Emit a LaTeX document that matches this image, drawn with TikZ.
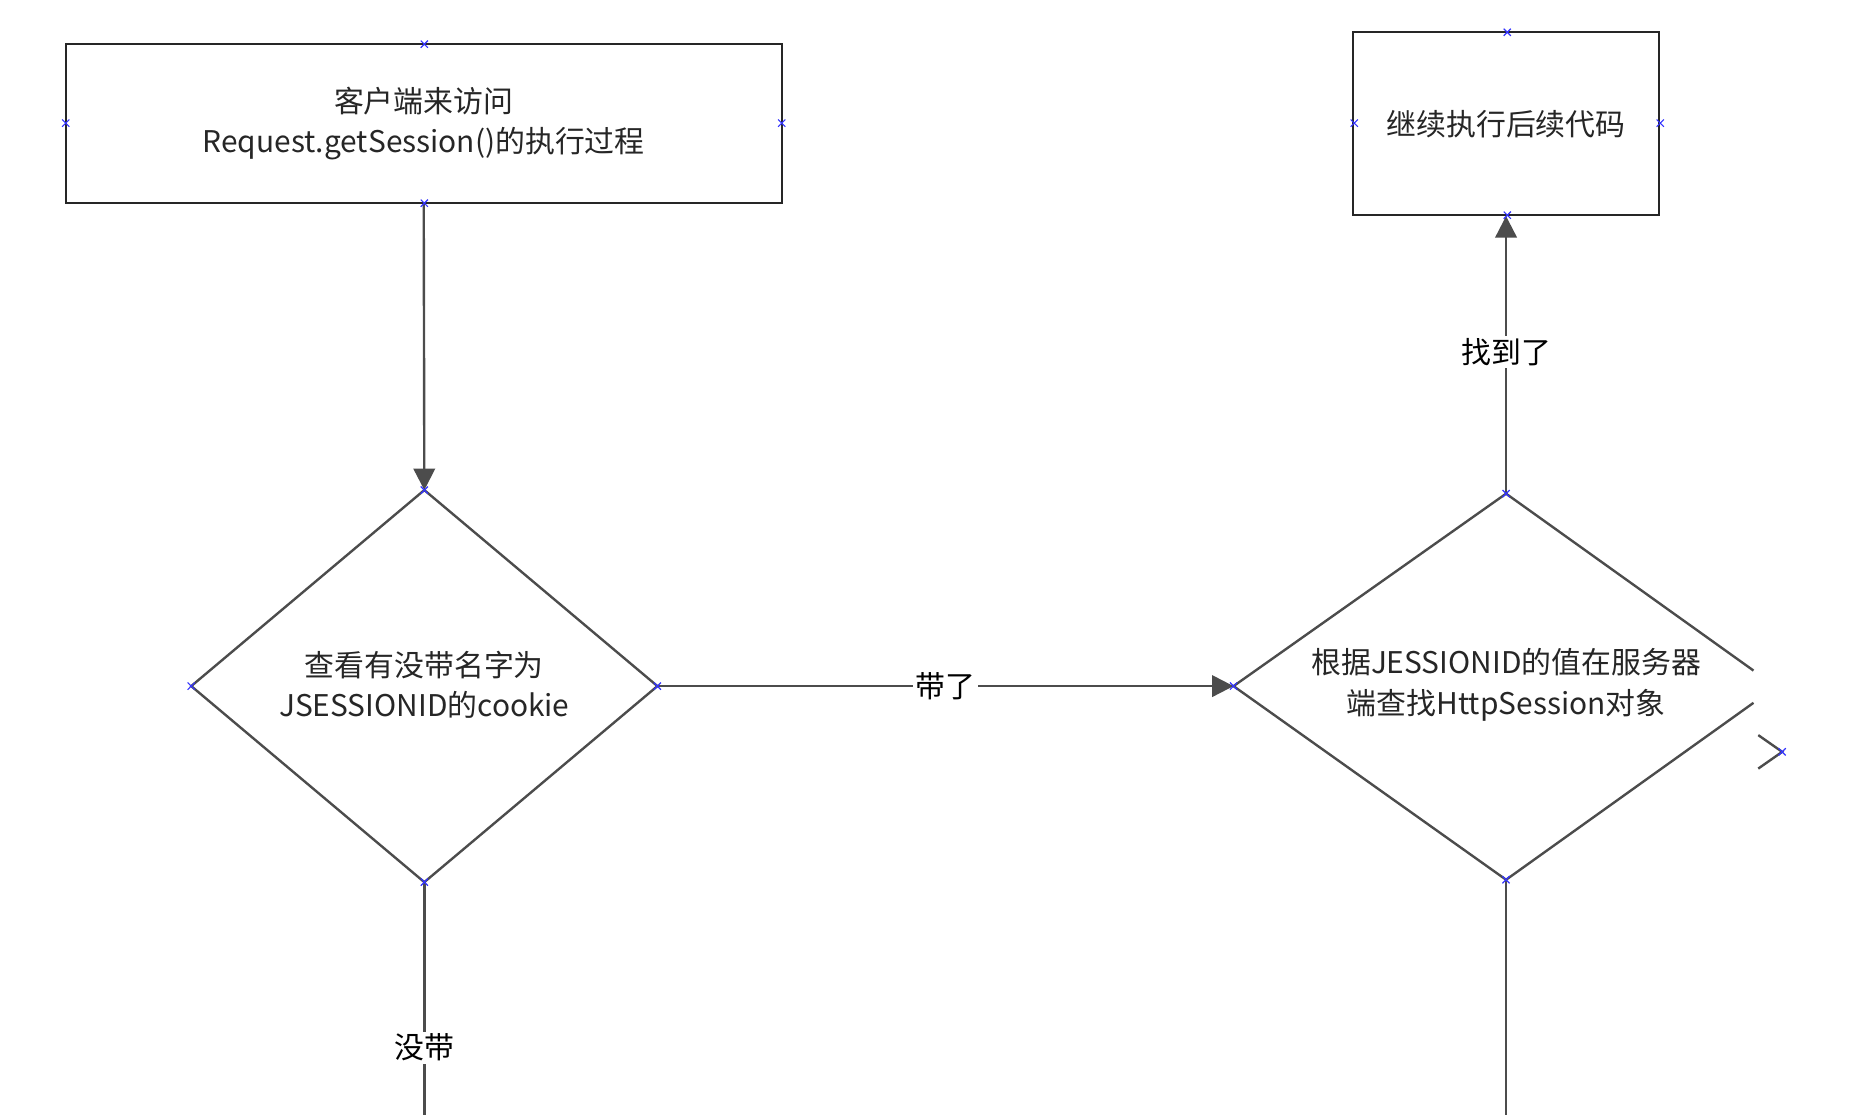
\documentclass[tikz,border=0pt]{standalone}
\usepackage{fontspec}
\setmainfont{Noto Sans CJK SC}
\usetikzlibrary{arrows.meta}
\begin{document}
\begin{tikzpicture}[x=0.5pt,y=-0.5pt,
  line/.style={draw=black!70,line width=1pt},
  tip/.style={-{Triangle[length=9pt,width=9pt]}},
  lbl/.style={fill=white,inner sep=1pt,font=\fontsize{12.5}{15}\selectfont},
  txt/.style={align=center,font=\fontsize{12.5}{17}\selectfont,text=black!85},
  mk/.style={draw=blue!80,line width=0.5pt}]
\useasboundingbox (0,0) rectangle (1567,933);
\def\mark(#1,#2){\draw[mk] (#1-3,#2-3)--(#1+3,#2+3) (#1-3,#2+3)--(#1+3,#2-3);}
% box 1
\node[draw=black!85,line width=0.8pt,minimum width=299.5pt,minimum height=66.5pt,txt] (b1) at (354.5,103.5) {客户端来访问\\Request.getSession()的执行过程};
% box 2
\node[draw=black!85,line width=0.8pt,minimum width=128pt,minimum height=76.5pt,txt] (b2) at (1260,103.5) {继续执行后续代码};
% diamond 1
\coordinate (d1t) at (355,410); \coordinate (d1l) at (160,574);
\coordinate (d1r) at (550,574); \coordinate (d1b) at (355,738);
\draw[line] (d1t)--(d1r)--(d1b)--(d1l)--cycle;
\node[txt] (d1) at (355,573) {查看有没带名字为\\JSESSIONID的cookie};
% diamond 2 (right tip cut)
\coordinate (d2t) at (1260,413); \coordinate (d2l) at (1032,574);
\coordinate (d2b) at (1260,736);
\draw[line] (1467,561)--(d2t)--(d2l)--(d2b)--(1467,588);
\draw[line] (1471,615)--(1491,629)--(1471,643);
\node[txt] (d2) at (1260,573) {根据JESSIONID的值在服务器\\端查找HttpSession对象};
% connectors
\draw[line,tip] (b1.south) -- (d1t);
\draw[line,tip] (d1r) -- node[lbl,pos=0.5]{带了} (d2l);
\draw[line,tip] (d2t) -- node[lbl,pos=0.51]{找到了} (b2.south);
\coordinate (e1) at (355,933); \coordinate (e2) at (1260,933);
\draw[line] (d1b) -- node[lbl,pos=0.71]{没带} (e1);
\draw[line] (d2b) -- (e2);
% markers
\mark(355,37)\mark(55,103)\mark(654,103)\mark(355,170)
\mark(355,410)\mark(160,574)\mark(550,574)\mark(355,738)
\mark(1260,413)\mark(1032,574)\mark(1260,736)
\mark(1261,27)\mark(1133,103)\mark(1389,103)\mark(1261,180)
\mark(1491,629)
\end{tikzpicture}
\end{document}
